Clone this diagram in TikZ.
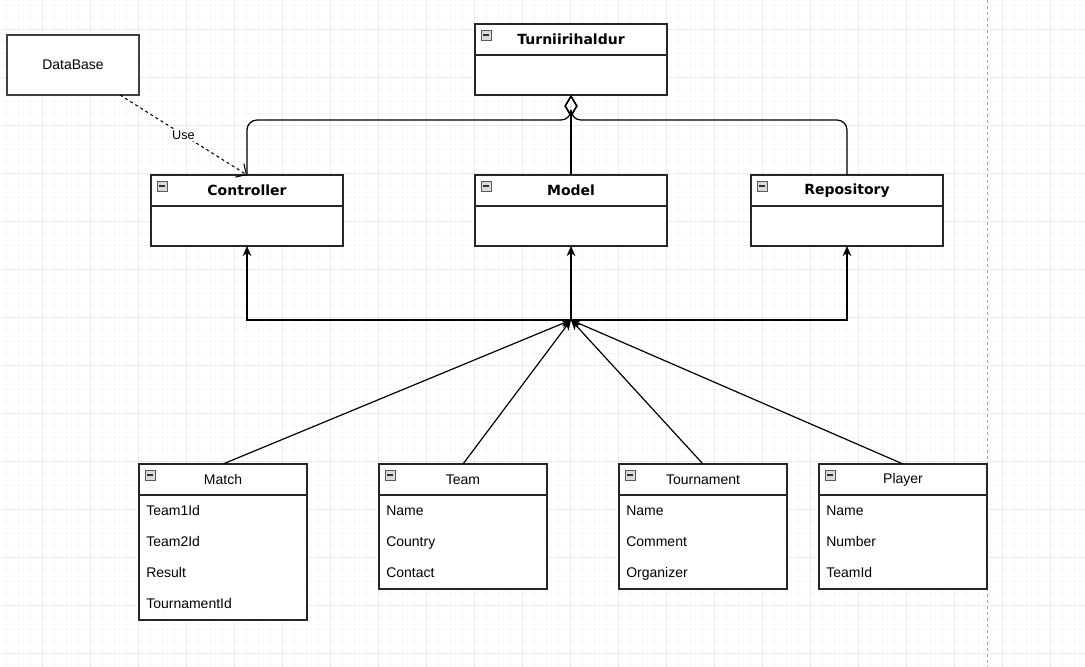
\documentclass[tikz,border=0pt]{standalone}
\usepackage{fontspec}
\setmainfont{Liberation Sans}
\newfontfamily\titlefont{DejaVu Sans}
\usetikzlibrary{arrows,arrows.meta,positioning,shapes}

\tikzset{
  collapse/.style={path picture={
      \draw[gray!70!black,fill=gray!30,line width=0.5pt]
        ([shift={(4.5pt,-4.5pt)}]path picture bounding box.north west) rectangle ++(7.5pt,-7.5pt);
      \draw[black!80,line width=1pt]
        ([shift={(6.2pt,-8.25pt)}]path picture bounding box.north west) -- ++(4.1pt,0);}},
  box/.style={draw=black!85,line width=1.1pt,fill=white,inner sep=0pt,outer sep=0pt},
  tophead/.style={box,collapse,minimum width=144pt,minimum height=23.25pt,
                  font=\titlefont\bfseries\fontsize{10.5}{12}\selectfont},
  topbody/.style={box,minimum width=144pt,minimum height=30pt},
  clshead/.style={box,collapse,minimum width=126pt,minimum height=23.25pt,
                  font=\fontsize{10.5}{12}\selectfont},
  clsbody/.style={box,minimum width=126pt,minimum height=#1},
  attr/.style={anchor=west,inner sep=0pt,text height=7.6pt,text depth=2.2pt,
               font=\fontsize{10.5}{12}\selectfont},
  agg/.style={line width=0.9pt,rounded corners=7.5pt,
              {Diamond[open,length=16.5pt,width=9.75pt,line width=0.9pt]}-},
  use/.style={line width=0.8pt,dash pattern=on 2.25pt off 2.25pt,
              -{Straight Barb[length=6pt,width=12pt,line width=0.8pt]}},
  inh/.style={->,line width=0.9pt}
}

\begin{document}
\begin{tikzpicture}[x=0.75pt,y=-0.75pt,>={Stealth[length=7.5pt,width=6.5pt,inset=2.2pt]}]

  % canvas and grid
  \useasboundingbox[fill=white] (0,0) rectangle (1085,667);
  \foreach \gx in {6.3,18.3,...,1085}
    \draw[black!3.5,line width=0.75pt] (\gx,0) -- (\gx,667);
  \foreach \gy in {5.5,17.5,...,667}
    \draw[black!3.5,line width=0.75pt] (0,\gy) -- (1085,\gy);
  \foreach \gx in {42.3,90.3,...,1085}
    \draw[black!8,line width=0.75pt] (\gx,0) -- (\gx,667);
  \foreach \gy in {29.5,77.5,...,667}
    \draw[black!8,line width=0.75pt] (0,\gy) -- (1085,\gy);
  \draw[black!35,line width=0.75pt,dash pattern=on 2.25pt off 2.25pt] (987,0) -- (987,667);

  % top level
  \node[box,draw=black!75,minimum width=99pt,minimum height=45pt,anchor=north west,
        font=\fontsize{10.5}{12}\selectfont] (db) at (7,35) {DataBase};
  \node[tophead,anchor=north west] (turn) at (475,24) {Turniirihaldur};
  \node[topbody,below=0pt of turn] (turn-body) {};

  % packages
  \node[tophead,anchor=north west] (ctrl)  at (151,175) {Controller};
  \node[topbody,below=0pt of ctrl]  (ctrl-body) {};
  \node[tophead,anchor=north west] (model) at (475,175) {Model};
  \node[topbody,below=0pt of model] (model-body) {};
  \node[tophead,anchor=north west] (repo)  at (751,175) {Repository};
  \node[topbody,below=0pt of repo]  (repo-body) {};

  % entity classes
  \node[clshead,anchor=north west] (match) at (139,464) {Match};
  \node[clsbody=93.75pt,below=0pt of match] (match-body) {};
  \node[clshead,anchor=north west] (team)  at (379,464) {Team};
  \node[clsbody=70.5pt,below=0pt of team] (team-body) {};
  \node[clshead,anchor=north west] (tour)  at (619,464) {Tournament};
  \node[clsbody=70.5pt,below=0pt of tour] (tour-body) {};
  \node[clshead,anchor=north west] (player) at (819,464) {Player};
  \node[clsbody=70.5pt,below=0pt of player] (player-body) {};

  \node[attr] (match-a) at (146,511.5) {Team1Id};
  \node[attr] (match-b) at (146,542.5) {Team2Id};
  \node[attr] (match-c) at (146,574) {Result};
  \node[attr] (match-d) at (146,605) {TournamentId};

  \node[attr] (team-a) at (386,511.5) {Name};
  \node[attr] (team-b) at (386,542.5) {Country};
  \node[attr] (team-c) at (386,574) {Contact};

  \node[attr] (tour-a) at (626,511.5) {Name};
  \node[attr] (tour-b) at (626,542.5) {Comment};
  \node[attr] (tour-c) at (626,574) {Organizer};

  \node[attr] (player-a) at (826,511.5) {Name};
  \node[attr] (player-b) at (826,542.5) {Number};
  \node[attr] (player-c) at (826,574) {TeamId};

  % aggregation
  \draw[agg] (turn-body.south) -- ++(0,25) -| (ctrl.north);
  \draw[agg] (turn-body.south) -- ++(0,25) -| (repo.north);
  \draw[agg] (turn-body.south) -- (model.north);

  % dependency
  \draw[use] ([xshift=35.25pt]db.south) -- (ctrl.north)
    node[midway,fill=white,inner sep=1pt,font=\fontsize{9.5}{11}\selectfont] {Use};

  % associations
  \coordinate (hub) at (571,320);
  \draw[inh] (hub) -| (ctrl-body.south);
  \draw[inh] (hub) -- (model-body.south);
  \draw[inh] (hub) -| (repo-body.south);
  \draw[inh] (match.north)  -- (hub);
  \draw[inh] (team.north)   -- (hub);
  \draw[inh] (tour.north)   -- (hub);
  \draw[inh] (player.north) -- (hub);
\end{tikzpicture}
\end{document}
